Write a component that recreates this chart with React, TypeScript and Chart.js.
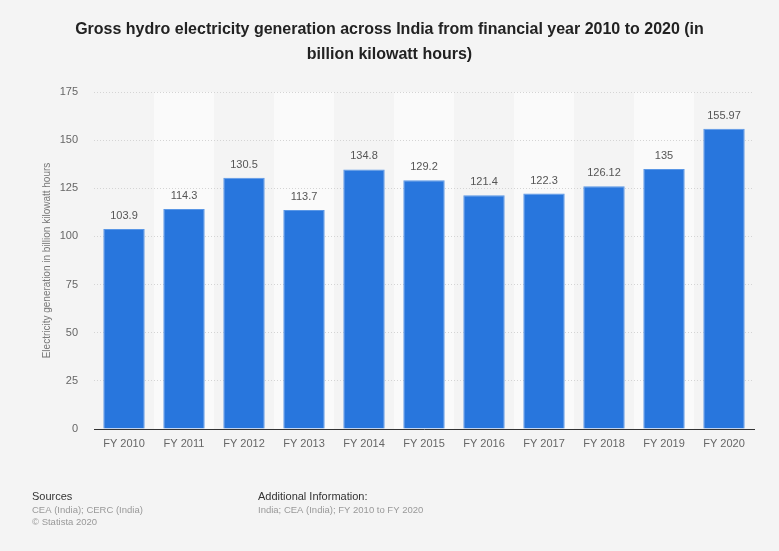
import React, { useEffect, useRef } from "react";
import { Chart, registerables } from "chart.js";

Chart.register(...registerables);

const categories = ["FY 2010", "FY 2011", "FY 2012", "FY 2013", "FY 2014", "FY 2015", "FY 2016", "FY 2017", "FY 2018", "FY 2019", "FY 2020"];
const values = [103.9, 114.3, 130.5, 113.7, 134.8, 129.2, 121.4, 122.3, 126.12, 135, 155.97];
const valueLabels = ["103.9", "114.3", "130.5", "113.7", "134.8", "129.2", "121.4", "122.3", "126.12", "135", "155.97"];
const titleLines = ["Gross hydro electricity generation across India from financial year 2010 to 2020 (in", "billion kilowatt hours)"];
const yTitle = "Electricity generation in billion kilowatt hours";
const sourcesLines = ["CEA (India); CERC (India)", "© Statista 2020"];
const addInfoLines = ["India; CEA (India); FY 2010 to FY 2020"];

const FONT = "'Liberation Sans', Arial, Helvetica, sans-serif";

const decorPlugin = {
  id: "decor",
  beforeDraw(chart: any) {
    const { ctx, chartArea, scales } = chart;
    ctx.save();
    ctx.fillStyle = "#f4f4f4";
    ctx.fillRect(0, 0, chart.width, chart.height);
    const x = scales.x;
    const step = (chartArea.right - chartArea.left) / categories.length;
    ctx.fillStyle = "#fafafa";
    categories.forEach((_, i) => {
      if (i % 2 === 1) {
        const c = x.getPixelForValue(i);
        ctx.fillRect(c - step / 2, chartArea.top, step, chartArea.bottom - chartArea.top);
      }
    });
    ctx.restore();
  },
  afterDraw(chart: any) {
    const { ctx, chartArea } = chart;
    ctx.save();
    // title
    ctx.fillStyle = "#222";
    ctx.font = `bold 16px ${FONT}`;
    ctx.textAlign = "center";
    ctx.textBaseline = "middle";
    titleLines.forEach((t, i) => ctx.fillText(t, chart.width / 2, 30 + i * 25));
    // y title
    ctx.save();
    ctx.translate(47, (chartArea.top + chartArea.bottom) / 2);
    ctx.rotate(-Math.PI / 2);
    ctx.font = `10px ${FONT}`;
    ctx.fillStyle = "#777";
    ctx.fillText(yTitle, 0, 0);
    ctx.restore();
    // value labels
    const meta = chart.getDatasetMeta(0);
    ctx.font = `11px ${FONT}`;
    ctx.fillStyle = "#555";
    ctx.textAlign = "center";
    meta.data.forEach((bar: any, i: number) => {
      ctx.fillText(valueLabels[i], bar.x, bar.y - 13);
    });
    // footer
    ctx.textAlign = "left";
    ctx.font = `11px ${FONT}`;
    ctx.fillStyle = "#333";
    ctx.fillText("Sources", 32, 497);
    ctx.fillText("Additional Information:", 258, 497);
    ctx.font = `9.5px ${FONT}`;
    ctx.fillStyle = "#999";
    sourcesLines.forEach((t, i) => ctx.fillText(t, 32, 510 + i * 12));
    addInfoLines.forEach((t, i) => ctx.fillText(t, 258, 510 + i * 12));
    ctx.restore();
  },
};

export default function App() {
  const ref = useRef<HTMLCanvasElement>(null);
  useEffect(() => {
    document.body.style.margin = "0";
    const chart = new Chart(ref.current!, {
      type: "bar",
      data: {
        labels: categories,
        datasets: [
          {
            data: values,
            backgroundColor: "#2876dd",
            borderColor: "#5a97e6",
            borderWidth: 1,
            categoryPercentage: 0.69,
            barPercentage: 1,
          },
        ],
      },
      plugins: [decorPlugin],
      options: {
        responsive: false,
        animation: false,
        layout: { padding: { top: 92, left: 30, right: 25, bottom: 0 } },
        plugins: { legend: { display: false }, title: { display: false }, tooltip: { enabled: false } },
        scales: {
          x: {
            grid: { display: false },
            border: { display: true, color: "#333", width: 1 },
            ticks: { color: "#666", font: { size: 11, family: FONT }, padding: 0 },
            afterFit: (s: any) => { s.height = 122; },
          },
          y: {
            min: 0,
            max: 175,
            ticks: { stepSize: 25, color: "#666", font: { size: 11, family: FONT }, padding: 16 },
            grid: { color: "#d4d4d4", drawTicks: false },
            border: { display: false, dash: [1, 2] },
            afterFit: (s: any) => { s.width = 64; },
          },
        },
      },
    });
    return () => chart.destroy();
  }, []);
  return <canvas ref={ref} width={779} height={551} style={{ display: "block" }} />;
}
